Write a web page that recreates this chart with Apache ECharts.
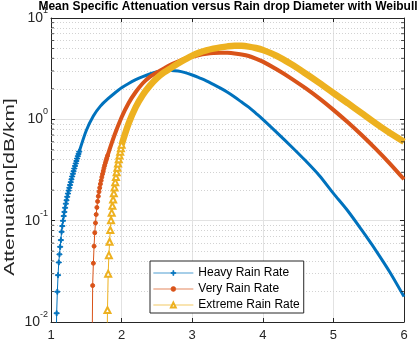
<!DOCTYPE html>
<html>
<head>
<meta charset="utf-8">
<script src="https://cdn.jsdelivr.net/npm/echarts@6/dist/echarts.min.js"></script>
<style>
  html, body { margin: 0; padding: 0; background: #fff; }
  #main { width: 420px; height: 342px; }
</style>
</head>
<body>
<div id="main"></div>
<script>
// values (x = drop diameter, y = attenuation dB/km)
// the steep start of each curve, where the markers stand apart
const heavyStartX = [1.07, 1.08, 1.09, 1.10, 1.11, 1.12, 1.13, 1.14, 1.15, 1.16, 1.17, 1.18, 1.19, 1.20, 1.21, 1.22, 1.23, 1.24, 1.25, 1.26, 1.27, 1.28, 1.29, 1.30, 1.31, 1.32, 1.33, 1.34, 1.35, 1.36, 1.37, 1.38, 1.39, 1.40]
const heavyStartY = [0.004, 0.0122, 0.0199, 0.029, 0.0387, 0.0465, 0.0552, 0.0643, 0.0776, 0.0885, 0.0998, 0.111, 0.122, 0.134, 0.147, 0.159, 0.172, 0.185, 0.198, 0.211, 0.225, 0.240, 0.256, 0.273, 0.290, 0.308, 0.327, 0.347, 0.367, 0.388, 0.410, 0.433, 0.456, 0.480]
const veryStartX = [1.58, 1.59, 1.60, 1.61, 1.62, 1.63, 1.64, 1.65, 1.66, 1.67, 1.68, 1.69, 1.70, 1.71, 1.72, 1.73, 1.74, 1.75, 1.76, 1.77, 1.78, 1.79, 1.80]
const veryStartY = [0.003, 0.0229, 0.038, 0.056, 0.076, 0.095, 0.115, 0.135, 0.155, 0.174, 0.193, 0.211, 0.230, 0.249, 0.269, 0.289, 0.309, 0.330, 0.351, 0.372, 0.393, 0.414, 0.436]
const extremeStartX = [1.79, 1.80, 1.81, 1.82, 1.83, 1.84, 1.85, 1.86, 1.87, 1.88, 1.89, 1.90, 1.91, 1.92, 1.93, 1.94, 1.95, 1.96, 1.97, 1.98, 1.99, 2.00]
const extremeStartY = [0.003, 0.0131, 0.030, 0.0457, 0.062, 0.081, 0.101, 0.120, 0.140, 0.162, 0.186, 0.212, 0.240, 0.269, 0.300, 0.333, 0.367, 0.403, 0.440, 0.479, 0.519, 0.560]

// the rest of each curve, where the markers run together
const heavyRestX = [1.4, 1.5, 1.6, 1.7, 1.8, 1.9, 2.0, 2.1, 2.2, 2.3, 2.4, 2.5, 2.6, 2.7, 2.8, 2.9, 3.0, 3.1, 3.2, 3.3, 3.4, 3.5, 3.6, 3.7, 3.8, 3.9, 4.0, 4.2, 4.4, 4.6, 4.8, 5.0, 5.2, 5.4, 5.6, 5.8, 6.0]
const heavyRestY = [0.48, 0.776, 1.08, 1.35, 1.58, 1.81, 2.05, 2.26, 2.46, 2.64, 2.80, 2.95, 3.02, 3.04, 3.00, 2.89, 2.74, 2.57, 2.40, 2.21, 2.03, 1.85, 1.66, 1.48, 1.32, 1.15, 1.00, 0.74, 0.543, 0.394, 0.279, 0.186, 0.126, 0.081, 0.051, 0.031, 0.0178]
const veryRestX = [1.8, 1.9, 2.0, 2.1, 2.2, 2.3, 2.4, 2.5, 2.6, 2.7, 2.8, 2.9, 3.0, 3.1, 3.2, 3.3, 3.4, 3.5, 3.6, 3.7, 3.8, 3.9, 4.0, 4.2, 4.4, 4.6, 4.8, 5.0, 5.2, 5.4, 5.6, 5.8, 6.0]
const veryRestY = [0.436, 0.70, 1.05, 1.45, 1.86, 2.27, 2.62, 2.90, 3.18, 3.47, 3.72, 3.96, 4.15, 4.32, 4.44, 4.52, 4.55, 4.53, 4.47, 4.37, 4.22, 3.98, 3.71, 3.10, 2.54, 2.04, 1.61, 1.24, 0.94, 0.70, 0.511, 0.366, 0.256]
const extremeRestX = [2.0, 2.1, 2.2, 2.3, 2.4, 2.5, 2.6, 2.7, 2.8, 2.9, 3.0, 3.1, 3.2, 3.3, 3.4, 3.5, 3.6, 3.7, 3.8, 3.9, 4.0, 4.2, 4.4, 4.6, 4.8, 5.0, 5.2, 5.4, 5.6, 5.8, 6.0]
const extremeRestY = [0.560, 0.912, 1.32, 1.74, 2.15, 2.55, 2.90, 3.22, 3.56, 3.90, 4.25, 4.55, 4.79, 4.98, 5.13, 5.25, 5.32, 5.31, 5.22, 5.06, 4.83, 4.22, 3.51, 2.85, 2.29, 1.82, 1.45, 1.15, 0.912, 0.733, 0.601]

const names = ['Heavy Rain Rate', 'Very Rain Rate', 'Extreme Rain Rate']
// log minor grid / ticks
const minorTicks = [0.02, 0.03, 0.04, 0.05, 0.06, 0.07, 0.08, 0.09, 0.2, 0.3, 0.4, 0.5, 0.6, 0.7, 0.8, 0.9, 2, 3, 4, 5, 6, 7, 8, 9]

const font = "'Liberation Sans', Arial, Helvetica, sans-serif"
const colors = ['#0072BD', '#D95319', '#EDB120']
const axisColor = '#262626'
const plus = 'path://M4,0h2v4h4v2h-4v4h-2v-4h-4v-2h4z'

function pairs (xs, ys) {
  return xs.map((x, i) => [x, ys[i]])
}

var myChart = echarts.init(document.getElementById('main'), null, { renderer: 'canvas' })

function markerPart (name, data, color, symbol, size) {
  return {
    name: name,
    type: 'line',
    data: data,
    symbol: symbol,
    symbolSize: size,
    lineStyle: { width: 1, color: color },
    itemStyle: { color: color, borderColor: color, borderWidth: 1 },
    z: 3
  }
}

function thickPart (name, data, color, width) {
  return {
    name: name,
    type: 'line',
    data: data,
    symbol: 'none',
    smooth: 0.3,
    lineStyle: { width: width, color: color },
    itemStyle: { color: color },
    z: 3
  }
}

var option = {
  animation: false,
  title: {
    text: 'Mean Specific Attenuation versus Rain drop Diameter with Weibull',
    left: 228,
    top: 1,
    padding: 0,
    textAlign: 'center',
    textStyle: { fontSize: 12, fontWeight: 'bold', color: '#000', fontFamily: font }
  },
  grid: { left: 51, top: 18, right: 16, bottom: 20 },
  legend: {
    data: names,
    orient: 'vertical',
    left: 150,
    top: 261,
    itemWidth: 40,
    itemHeight: 6,
    itemGap: 2,
    padding: [5, 4, 1, 3],
    borderColor: axisColor,
    borderWidth: 1,
    backgroundColor: '#fff',
    selectedMode: false,
    lineStyle: { width: 0.7 },
    itemStyle: { borderWidth: 0.7 },
    textStyle: { fontSize: 12, lineHeight: 14, color: '#000', fontFamily: font }
  },
  graphic: [
    {
      type: 'text',
      x: 10,
      y: 187,
      rotation: Math.PI / 2,
      scaleX: 1.5,
      style: {
        text: 'Attenuation[dB/km]',
        fontSize: 14,
        fontFamily: font,
        fill: axisColor,
        align: 'center',
        verticalAlign: 'middle'
      }
    }
  ],
  xAxis: [
    {
      type: 'value',
      min: 1,
      max: 6,
      interval: 1,
      position: 'bottom',
      axisLine: { show: true, onZero: false, lineStyle: { color: axisColor } },
      axisTick: { inside: true, length: 4, lineStyle: { color: axisColor } },
      axisLabel: { color: axisColor, fontSize: 13, margin: 7, fontFamily: font },
      splitLine: { show: true, lineStyle: { color: '#e2e2e2' } }
    },
    {
      type: 'value',
      min: 1,
      max: 6,
      interval: 1,
      position: 'top',
      axisLine: { show: true, onZero: false, lineStyle: { color: axisColor } },
      axisTick: { inside: true, length: 4, lineStyle: { color: axisColor } },
      axisLabel: { show: false },
      splitLine: { show: false }
    }
  ],
  yAxis: [
    {
      type: 'log',
      logBase: 10,
      min: 0.01,
      max: 10,
      position: 'left',
      axisLine: { show: true, onZero: false, lineStyle: { color: axisColor } },
      axisTick: { inside: true, length: 4, lineStyle: { color: axisColor } },
      axisLabel: {
        margin: 3,
        color: axisColor,
        fontFamily: font,
        formatter: function (v) {
          return '{b|10}{s|' + Math.round(Math.log10(v)) + '}'
        },
        rich: {
          b: { fontSize: 14, lineHeight: 16, color: axisColor, fontFamily: font },
          s: { fontSize: 9, lineHeight: 10, padding: [0, 0, 15, 0], color: axisColor, fontFamily: font }
        }
      },
      splitLine: { show: true, lineStyle: { color: '#e2e2e2' } }
    },
    {
      type: 'log',
      logBase: 10,
      min: 0.01,
      max: 10,
      position: 'right',
      axisLine: { show: true, onZero: false, lineStyle: { color: axisColor } },
      axisTick: { inside: true, length: 4, lineStyle: { color: axisColor } },
      axisLabel: { show: false },
      splitLine: { show: false }
    }
  ],
  series: [
    {
      // minor grid of the log axis
      type: 'line',
      data: [],
      z: 1,
      silent: true,
      markLine: {
        silent: true,
        z: 1,
        symbol: ['none', 'none'],
        label: { show: false },
        lineStyle: { type: [1, 2], color: '#d2d2d2', width: 1 },
        data: minorTicks.map(v => ({ yAxis: v }))
      }
    },
    {
      type: 'scatter',
      data: minorTicks.map(v => [1, v]),
      symbol: 'rect',
      symbolSize: [3, 1],
      symbolOffset: [1.5, 0],
      itemStyle: { color: axisColor },
      silent: true,
      clip: false,
      z: 4
    },
    {
      type: 'scatter',
      data: minorTicks.map(v => [6, v]),
      symbol: 'rect',
      symbolSize: [3, 1],
      symbolOffset: [-1.5, 0],
      itemStyle: { color: axisColor },
      silent: true,
      clip: false,
      z: 4
    },
    markerPart(names[0], pairs(heavyStartX, heavyStartY), colors[0], plus, 5),
    thickPart(names[0], pairs(heavyRestX, heavyRestY), colors[0], 3),
    markerPart(names[1], pairs(veryStartX, veryStartY), colors[1], 'circle', 4),
    thickPart(names[1], pairs(veryRestX, veryRestY), colors[1], 4),
    markerPart(names[2], pairs(extremeStartX, extremeStartY), colors[2], 'emptyTriangle', 6),
    thickPart(names[2], pairs(extremeRestX, extremeRestY), colors[2], 6.5)
  ]
}

myChart.setOption(option)
</script>
</body>
</html>
